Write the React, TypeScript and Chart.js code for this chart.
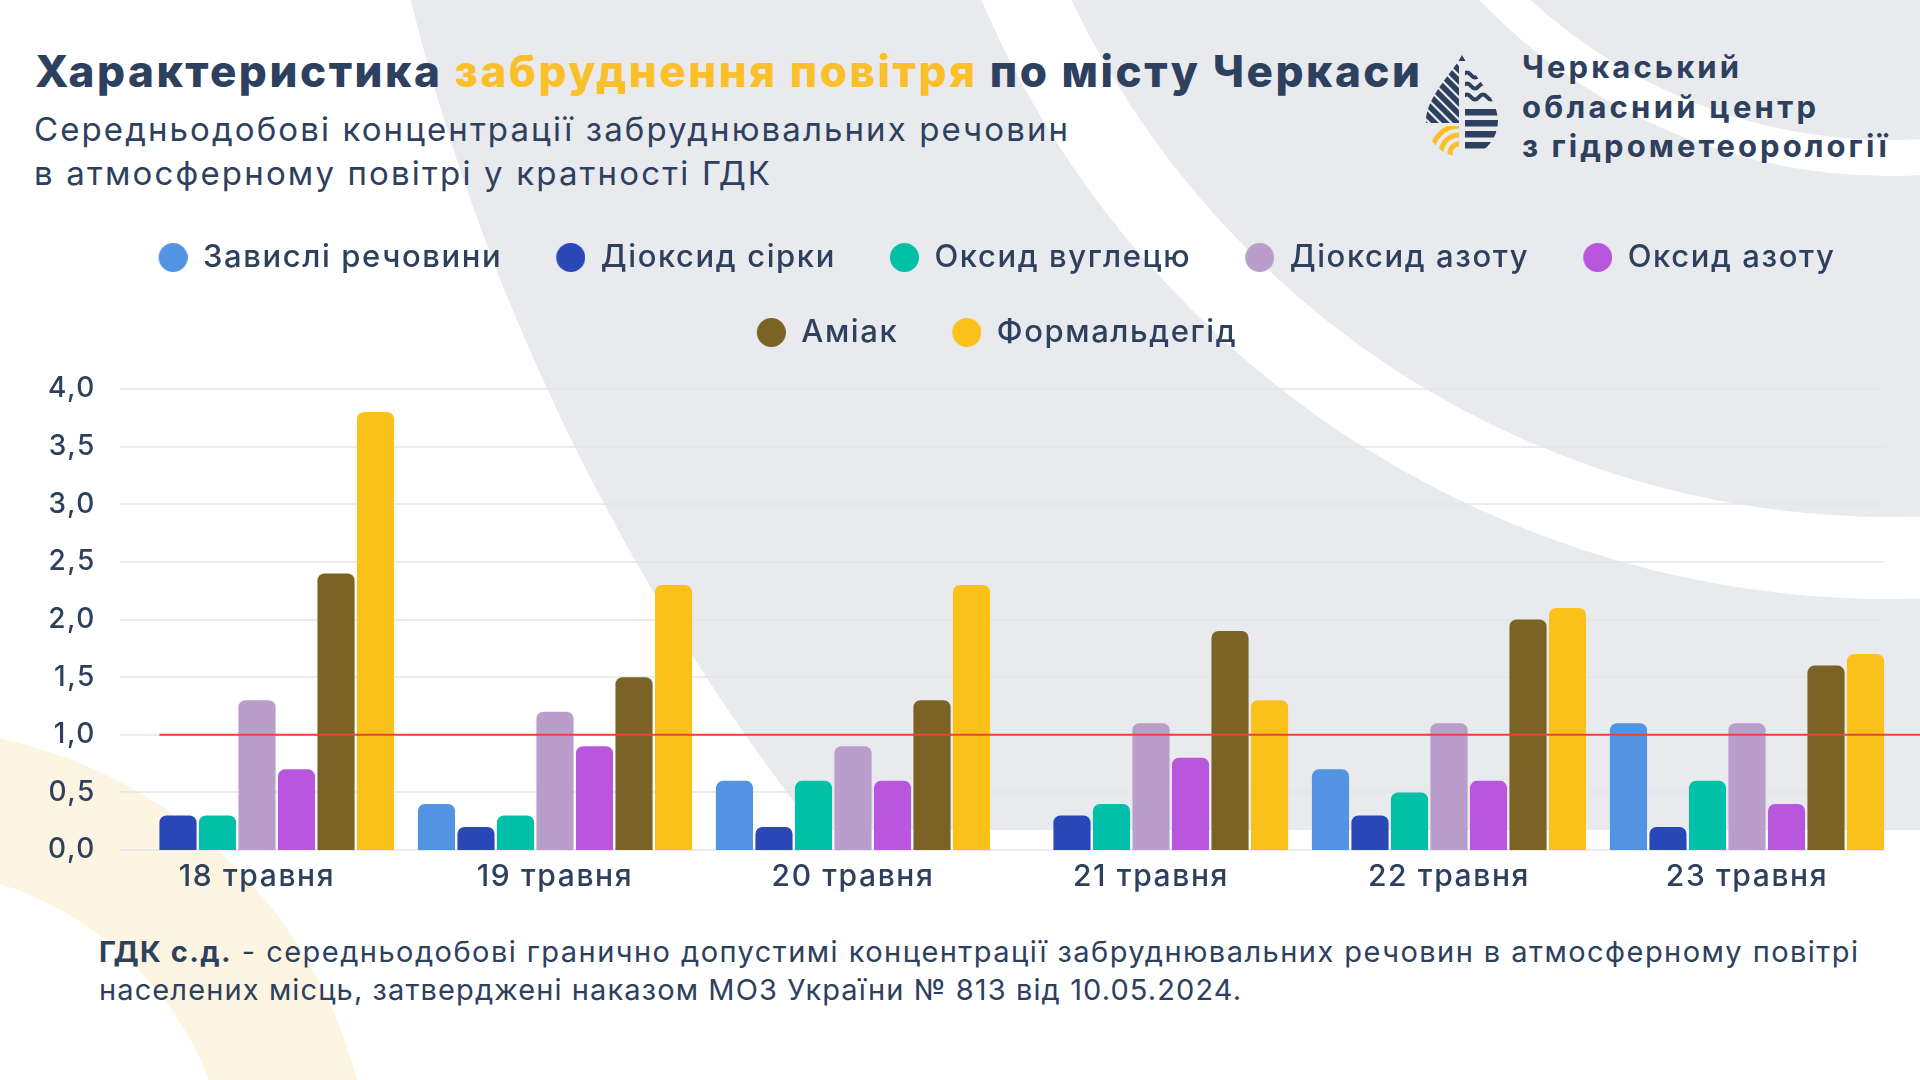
import { useEffect, useRef } from 'react';
import { Chart, registerables, layouts } from 'chart.js';

Chart.register(...registerables);

// Дати спостережень
const dates = ['18 травня', '19 травня', '20 травня', '21 травня', '22 травня', '23 травня'];

// Середньодобові концентрації у кратності ГДК (null — показник не визначався)
const suspendedMatter = [null, 0.4, 0.6, null, 0.7, 1.1];
const sulfurDioxide = [0.3, 0.2, 0.2, 0.3, 0.3, 0.2];
const carbonMonoxide = [0.3, 0.3, 0.6, 0.4, 0.5, 0.6];
const nitrogenDioxide = [1.3, 1.2, 0.9, 1.1, 1.1, 1.1];
const nitrogenOxide = [0.7, 0.9, 0.6, 0.8, 0.6, 0.4];
const ammonia = [2.4, 1.5, 1.3, 1.9, 2.0, 1.6];
const formaldehyde = [3.8, 2.3, 2.3, 1.3, 2.1, 1.7];

const seriesNames = [
  'Завислі речовини',
  'Діоксид сірки',
  'Оксид вуглецю',
  'Діоксид азоту',
  'Оксид азоту',
  'Аміак',
  'Формальдегід',
];
const seriesValues = [
  suspendedMatter,
  sulfurDioxide,
  carbonMonoxide,
  nitrogenDioxide,
  nitrogenOxide,
  ammonia,
  formaldehyde,
];
const seriesColors = ['#5294e2', '#2a47b8', '#00c1a8', '#b99dca', '#b856dd', '#7a6324', '#fbc11b'];

// Вісь значень: межі та крок підписів
const axisMin = 0;
const axisMax = 4;
const axisStep = 0.5;
// Рівень ГДК
const limitLevel = 1;

const INK = '#2d405e';
const YELLOW = '#fbbf2a';
const FONT = 'Inter, "Noto Sans", sans-serif';
const CANVAS_LETTER_SPACING = '1.6px';

const CATEGORY_PCT = 0.928;
const BAR_PCT = 0.94;

const LEGEND_FS = 31;
const LEGEND_PAD = 44;
const LEGEND_SHIFT = -10;
const MARKER_W = 39;
const MARKER_CX = 24.5;
const MARKER_D = 29;

const CANVAS_TOP = 198;
const CANVAS_H = 712;

function makeMarker(color: string) {
  const c = document.createElement('canvas');
  c.width = MARKER_W;
  c.height = MARKER_D + 2;
  const g = c.getContext('2d')!;
  g.fillStyle = color;
  g.beginPath();
  g.arc(MARKER_CX, c.height / 2, MARKER_D / 2, 0, Math.PI * 2);
  g.fill();
  return c;
}

// Проміжок між легендою та областю графіка
const legendGap = {
  id: 'legendGap',
  beforeInit(chart: any) {
    layouts.addBox(chart, {
      position: 'top',
      weight: -10,
      fullSize: false,
      options: {},
      left: 0,
      top: 0,
      right: 0,
      bottom: 0,
      width: 0,
      height: 0,
      isHorizontal() {
        return true;
      },
      update(maxWidth: number) {
        this.width = maxWidth;
        this.height = 31;
      },
      draw() {},
    } as any);
  },
  afterLayout(chart: any) {
    const lg = chart.legend;
    if (lg) {
      lg.left += LEGEND_SHIFT;
      lg.right += LEGEND_SHIFT;
    }
  },
};

// Трохи розріджений шрифт для підписів на полотні
const textSpacing = {
  id: 'textSpacing',
  beforeLayout(chart: any) {
    chart.ctx.letterSpacing = CANVAS_LETTER_SPACING;
  },
  beforeDraw(chart: any) {
    chart.ctx.letterSpacing = CANVAS_LETTER_SPACING;
  },
};

function barExtent(chart: any) {
  const x = chart.scales.x;
  const n = chart.data.labels.length;
  const m = chart.data.datasets.length;
  const catW = x.getPixelForValue(1) - x.getPixelForValue(0);
  const groupW = catW * CATEGORY_PCT;
  const inset = ((groupW / m) * (1 - BAR_PCT)) / 2;
  return [x.getPixelForValue(0) - groupW / 2 + inset, x.getPixelForValue(n - 1) + groupW / 2 - inset];
}

// Лінії сітки по ширині груп стовпців і лінія рівня ГДК
const gridAndLimit = {
  id: 'gridAndLimit',
  beforeDatasetsDraw(chart: any) {
    const { ctx } = chart;
    const y = chart.scales.y;
    const [left, right] = barExtent(chart);
    ctx.save();
    ctx.strokeStyle = '#e2e4e9';
    ctx.lineWidth = 1.5;
    y.ticks.forEach((t: any) => {
      const py = Math.round(y.getPixelForValue(t.value));
      ctx.beginPath();
      ctx.moveTo(left, py);
      ctx.lineTo(right, py);
      ctx.stroke();
    });
    ctx.restore();
  },
  afterDatasetsDraw(chart: any) {
    const { ctx } = chart;
    const y = chart.scales.y;
    let start = chart.chartArea.left;
    for (let i = 0; i < chart.data.datasets.length; i++) {
      if (chart.data.datasets[i].data[0] != null) {
        const el = chart.getDatasetMeta(i).data[0];
        const { x, width } = el.getProps(['x', 'width'], true);
        start = x - width / 2;
        break;
      }
    }
    const py = y.getPixelForValue(limitLevel);
    ctx.save();
    ctx.strokeStyle = '#e8443a';
    ctx.lineWidth = 2;
    ctx.beginPath();
    ctx.moveTo(start, py);
    ctx.lineTo(chart.width, py);
    ctx.stroke();
    ctx.restore();
  },
};

function Emblem() {
  return (
    <g transform="translate(1426 55)">
      <defs>
        <clipPath id="emblemDrop">
          <path d="M36 0 C44 16 72 42 72 66 A36 36 0 0 1 0 66 C0 42 28 16 36 0 Z" />
        </clipPath>
        <clipPath id="emblemLeftTop">
          <rect x="0" y="8" width="33" height="60" />
        </clipPath>
        <clipPath id="emblemLeftBottom">
          <rect x="0" y="71" width="33" height="40" />
        </clipPath>
        <clipPath id="emblemRight">
          <rect x="39" y="0" width="40" height="110" />
        </clipPath>
      </defs>
      <g clipPath="url(#emblemDrop)">
        <rect x="30" y="0" width="12" height="6" fill={INK} />
        <g clipPath="url(#emblemLeftTop)">
          {[0, 1, 2, 3, 4, 5, 6, 7, 8, 9].map((k) => (
            <line key={k} x1={-70 + k * 11} y1={0} x2={0 + k * 11} y2={70} stroke={INK} strokeWidth={5.5} />
          ))}
        </g>
        <g clipPath="url(#emblemLeftBottom)" fill="none" stroke={YELLOW} strokeWidth={5}>
          <circle cx="33" cy="98" r="9" />
          <circle cx="33" cy="98" r="18" />
          <circle cx="33" cy="98" r="27" />
        </g>
        <g clipPath="url(#emblemRight)">
          {[20, 31, 42].map((yy) => (
            <path
              key={yy}
              d={`M37 ${yy} q4 -5 8 0 t8 0 t8 0 t8 0 t8 0`}
              fill="none"
              stroke={INK}
              strokeWidth={4}
            />
          ))}
          {[54, 65, 76, 87].map((yy) => (
            <rect key={yy} x="39" y={yy} width="40" height="6.5" fill={INK} />
          ))}
        </g>
      </g>
    </g>
  );
}

export default function App() {
  const canvasRef = useRef<HTMLCanvasElement>(null);

  useEffect(() => {
    const canvas = canvasRef.current;
    if (!canvas) return;
    const markers = seriesColors.map((c) => makeMarker(c));

    const chart = new Chart(canvas, {
      type: 'bar',
      data: {
        labels: dates,
        datasets: seriesValues.map((values, i) => ({
          label: seriesNames[i],
          data: values,
          backgroundColor: seriesColors[i],
          borderRadius: { topLeft: 7, topRight: 7, bottomLeft: 0, bottomRight: 0 },
          borderSkipped: 'start',
          categoryPercentage: CATEGORY_PCT,
          barPercentage: BAR_PCT,
        })),
      },
      options: {
        responsive: false,
        maintainAspectRatio: false,
        animation: false,
        layout: { padding: { left: 0, right: 24, top: 0, bottom: 0 } },
        plugins: {
          legend: {
            position: 'top',
            fullSize: false,
            labels: {
              usePointStyle: true,
              pointStyleWidth: MARKER_W,
              boxHeight: LEGEND_FS,
              padding: LEGEND_PAD,
              color: INK,
              font: { family: FONT, size: LEGEND_FS, weight: 500 },
              generateLabels: (c: any) =>
                (Chart.defaults.plugins.legend.labels as any)
                  .generateLabels(c)
                  .map((item: any) => ({ ...item, pointStyle: markers[item.datasetIndex] })),
            },
          },
          tooltip: { enabled: false },
        },
        scales: {
          x: {
            grid: { display: false, drawTicks: false },
            border: { display: false },
            ticks: {
              color: INK,
              font: { family: FONT, size: 30, weight: 500 },
              padding: 9,
              maxRotation: 0,
              autoSkip: false,
            },
            afterFit: (s: any) => {
              s.height = 60;
            },
          },
          y: {
            min: axisMin,
            max: axisMax,
            grid: { display: false, drawTicks: false },
            border: { display: false },
            ticks: {
              stepSize: axisStep,
              color: INK,
              font: { family: FONT, size: 28, weight: 500 },
              padding: 12,
              callback: (v: any) => Number(v).toFixed(1).replace('.', ','),
            },
            afterFit: (s: any) => {
              s.width = 108;
            },
          },
        },
      },
      plugins: [textSpacing, legendGap, gridAndLimit],
    } as any);

    return () => chart.destroy();
  }, []);

  return (
    <div
      style={{
        position: 'fixed',
        left: 0,
        top: 0,
        width: 1920,
        height: 1080,
        overflow: 'hidden',
        background: '#ffffff',
      }}
    >
      <svg
        width={1920}
        height={1080}
        style={{ position: 'absolute', left: 0, top: 0 }}
        fontFamily={FONT}
      >
        <defs>
          <clipPath id="upperBand">
            <rect x="0" y="0" width="1920" height="830" />
          </clipPath>
        </defs>
        <circle cx={2570} cy={-540} r={2226} fill="#e9eaee" clipPath="url(#upperBand)" />
        <circle cx={1891} cy={-391} r={949} fill="none" stroke="#ffffff" strokeWidth={82} />
        <circle cx={1890} cy={-391} r={549} fill="none" stroke="#ffffff" strokeWidth={36} />
        <circle cx={-100} cy={1200} r={402} fill="none" stroke="#fdf5e1" strokeWidth={141} />

        <text x={35} y={87} fontSize={44} fontWeight={800} fill={INK} textLength={1385} lengthAdjust="spacing">
          Характеристика <tspan fill={YELLOW}>забруднення повітря</tspan> по місту Черкаси
        </text>
        <text x={34} y={141} fontSize={33} fontWeight={400} fill={INK} textLength={1034} lengthAdjust="spacing">
          Середньодобові концентрації забруднювальних речовин
        </text>
        <text x={34} y={185} fontSize={33} fontWeight={400} fill={INK} textLength={736} lengthAdjust="spacing">
          в атмосферному повітрі у кратності ГДК
        </text>

        <Emblem />
        <text x={1522} y={78} fontSize={31} fontWeight={700} fill={INK} textLength={217} lengthAdjust="spacing">
          Черкаський
        </text>
        <text x={1522} y={118} fontSize={31} fontWeight={700} fill={INK} textLength={294} lengthAdjust="spacing">
          обласний центр
        </text>
        <text x={1522} y={157} fontSize={31} fontWeight={700} fill={INK} textLength={365} lengthAdjust="spacing">
          з гідрометеорології
        </text>

        <text x={99} y={962} fontSize={29} fontWeight={400} fill={INK} textLength={1759} lengthAdjust="spacing">
          <tspan fontWeight={700}>ГДК с.д.</tspan> - середньодобові гранично допустимі концентрації забруднювальних
          речовин в атмосферному повітрі
        </text>
        <text x={99} y={1000} fontSize={29} fontWeight={400} fill={INK} textLength={1142} lengthAdjust="spacing">
          населених місць, затверджені наказом МОЗ України № 813 від 10.05.2024.
        </text>
      </svg>
      <canvas
        ref={canvasRef}
        width={1920}
        height={CANVAS_H}
        style={{ position: 'absolute', left: 0, top: CANVAS_TOP, width: 1920, height: CANVAS_H }}
      />
    </div>
  );
}
